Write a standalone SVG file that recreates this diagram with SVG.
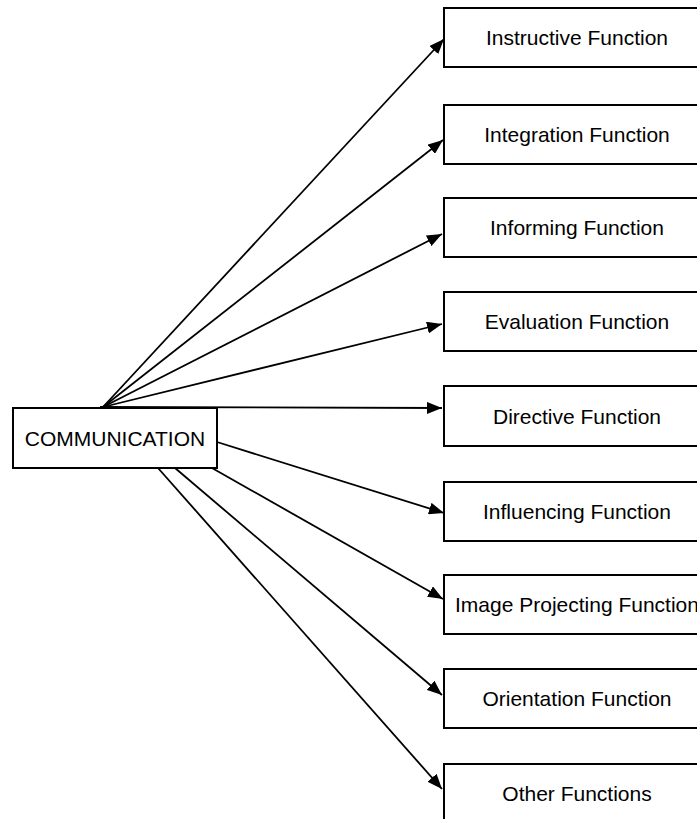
<svg xmlns="http://www.w3.org/2000/svg" width="697" height="819" viewBox="0 0 697 819">
<style>
.box{fill:#fff;stroke:#000;stroke-width:2}
.lbl{font-family:"Liberation Sans",Arial,sans-serif;font-size:21px;fill:#000;text-anchor:middle}
.edge{stroke:#000;stroke-width:1.8;fill:none;marker-end:url(#ah)}
</style>
<defs>
<marker id="ah" markerUnits="userSpaceOnUse" markerWidth="16" markerHeight="12" refX="15" refY="6" orient="auto">
<path d="M0,0 L15,6 L0,12 Z" fill="#000"/>
</marker>
</defs>
<rect width="697" height="819" fill="#fff"/>
<g id="connectors">
<line class="edge" x1="103" y1="407" x2="444" y2="39"/>
<line class="edge" x1="103" y1="407" x2="443" y2="140"/>
<line class="edge" x1="103" y1="407" x2="442" y2="234"/>
<line class="edge" x1="103" y1="407" x2="442" y2="324"/>
<line class="edge" x1="100" y1="407" x2="442" y2="408"/>
<line class="edge" x1="217" y1="442" x2="444" y2="513"/>
<line class="edge" x1="212" y1="468" x2="443" y2="599"/>
<line class="edge" x1="175" y1="468" x2="442" y2="695"/>
<line class="edge" x1="158" y1="468" x2="442" y2="789"/>
</g>
<g id="communication">
<rect class="box" x="13" y="408" width="204" height="60"/>
<text class="lbl" x="115" y="445.5">COMMUNICATION</text>
</g>
<g id="instructive">
<rect class="box" x="444" y="8" width="270" height="59"/>
<text class="lbl" x="577" y="45">Instructive Function</text>
</g>
<g id="integration">
<rect class="box" x="444" y="105" width="270" height="59"/>
<text class="lbl" x="577" y="142">Integration Function</text>
</g>
<g id="informing">
<rect class="box" x="444" y="198" width="270" height="59"/>
<text class="lbl" x="577" y="235">Informing Function</text>
</g>
<g id="evaluation">
<rect class="box" x="444" y="292" width="270" height="59"/>
<text class="lbl" x="577" y="329">Evaluation Function</text>
</g>
<g id="directive">
<rect class="box" x="444" y="386" width="270" height="60"/>
<text class="lbl" x="577" y="423.5">Directive Function</text>
</g>
<g id="influencing">
<rect class="box" x="444" y="482" width="270" height="59"/>
<text class="lbl" x="577" y="519">Influencing Function</text>
</g>
<g id="image-projecting">
<rect class="box" x="444" y="575" width="270" height="59"/>
<text class="lbl" x="577" y="612">Image Projecting Function</text>
</g>
<g id="orientation">
<rect class="box" x="444" y="669" width="270" height="59"/>
<text class="lbl" x="577" y="706">Orientation Function</text>
</g>
<g id="other">
<rect class="box" x="444" y="764" width="270" height="70"/>
<text class="lbl" x="577" y="801">Other Functions</text>
</g>
</svg>
